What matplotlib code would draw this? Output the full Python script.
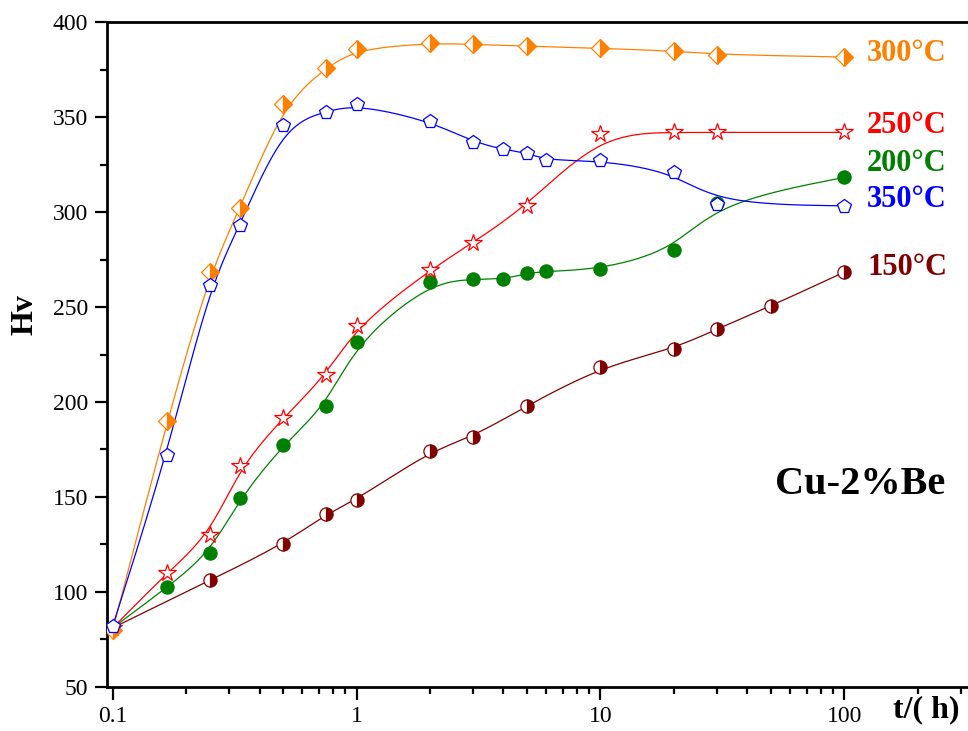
import numpy as np
import matplotlib
matplotlib.use("Agg")
import matplotlib.pyplot as plt
from matplotlib.ticker import MultipleLocator, LogLocator, FixedLocator, FixedFormatter

plt.rcParams['font.family'] = ['Liberation Serif', 'DejaVu Serif']
plt.rcParams['mathtext.fontset'] = 'stix'

# ---- data (hardness Hv vs ageing time t, hours) ----
t_150 = [0.1, 0.25, 0.5, 0.75, 1, 2, 3, 5, 10, 20, 30, 50, 100]
hv_150 = [81, 106, 125, 141, 148.4, 174.2, 181.6, 198, 218.4, 228, 238.4, 250.5, 268.4]

t_200 = [0.1, 0.167, 0.25, 0.333, 0.5, 0.75, 1, 2, 3, 4, 5, 6, 10, 20, 30, 100]
hv_200 = [81, 102.3, 120.4, 149.5, 177.4, 198, 231.6, 263, 264.6, 264.7, 267.7, 268.9, 269.8, 280, 305, 318.3]

t_250 = [0.1, 0.167, 0.25, 0.333, 0.5, 0.75, 1, 2, 3, 5, 10, 20, 30, 100]
hv_250 = [81, 110, 130, 166, 191.6, 214, 240, 269.5, 284, 303.2, 341.2, 342, 342, 342]

t_300 = [0.1, 0.167, 0.25, 0.333, 0.5, 0.75, 1, 2, 3, 5, 10, 20, 30, 100]
hv_300 = [80, 190, 268.4, 302, 357, 376, 386, 389, 388.4, 387.4, 386.3, 384.9, 383, 381.7]

t_350 = [0.1, 0.167, 0.25, 0.333, 0.5, 0.75, 1, 2, 3, 4, 5, 6, 10, 20, 30, 100]
hv_350 = [82, 172, 261.6, 293, 345.8, 353, 356.8, 348, 337, 333, 331.2, 327.2, 327.2, 321.2, 304.4, 303.3]

labels = ["150°C", "200°C", "250°C", "300°C", "350°C"]
label_y = [270.7, 325.5, 345.5, 383.8, 306.5]
colors = ["#800000", "#008000", "#FF0000", "#FF8000", "#0000FF"]

xticks = [0.1, 1, 10, 100]
xticklabels = ["0.1", "1", "10", "100"]
yticks = [50, 100, 150, 200, 250, 300, 350, 400]


def bspline(x, y, n=40):
    """Clamped uniform cubic B-spline (Origin-style) in log10(x)-y space."""
    lx = np.log10(np.asarray(x, float))
    yy = np.asarray(y, float)
    P = np.column_stack([lx, yy])
    P = np.vstack([P[:1], P[:1], P, P[-1:], P[-1:]])
    out = []
    u = np.linspace(0, 1, n)
    b0 = (1 - u) ** 3 / 6
    b1 = (3 * u ** 3 - 6 * u ** 2 + 4) / 6
    b2 = (-3 * u ** 3 + 3 * u ** 2 + 3 * u + 1) / 6
    b3 = u ** 3 / 6
    for i in range(len(P) - 3):
        seg = (np.outer(b0, P[i]) + np.outer(b1, P[i + 1]) +
               np.outer(b2, P[i + 2]) + np.outer(b3, P[i + 3]))
        out.append(seg)
    S = np.vstack(out)
    return 10 ** S[:, 0], S[:, 1]


fig = plt.figure(figsize=(9.68, 7.31), dpi=100)
ax = fig.add_axes([107.3 / 968, 44.3 / 731, 1 - 107.3 / 968, (686.7 - 22.3) / 731])
ax.set_xscale('log')
ax.set_xlim(0.0950, 321.6)
ax.set_ylim(50, 400)

series = [
    (t_150, hv_150, dict(marker='o', fillstyle='right', markersize=9.5,
                         markerfacecoloralt='white')),
    (t_200, hv_200, dict(marker='o', fillstyle='full', markersize=9.5)),
    (t_250, hv_250, dict(marker='*', fillstyle='full', markersize=13,
                         markerfacecolor='white')),
    (t_300, hv_300, dict(marker='D', fillstyle='right', markersize=9,
                         markerfacecoloralt='white')),
    (t_350, hv_350, dict(marker='p', fillstyle='full', markersize=10.5,
                         markerfacecolor='white')),
]

for (tx, hv, mk), c in zip(series, colors):
    sx, sy = bspline(tx, hv)
    ax.plot(sx, sy, color=c, lw=0.9, zorder=2)
    kw = dict(mk)
    kw.setdefault('markerfacecolor', c)
    ax.plot(tx, hv, linestyle='none', markeredgecolor=c, markeredgewidth=0.9,
            zorder=3, **kw)

for lab, ly, c in zip(labels, label_y, colors):
    ax.text(124, ly, lab, color=c, fontsize=22, fontweight='bold',
            ha='left', va='center')

ax.text(52, 156.5, "Cu-2%Be", color='black', fontsize=29, fontweight='bold',
        ha='left', va='center')

# axes styling
for s in ['left', 'bottom', 'top']:
    ax.spines[s].set_linewidth(2.0)
ax.spines['right'].set_visible(False)

ax.xaxis.set_major_locator(FixedLocator(xticks))
ax.xaxis.set_major_formatter(FixedFormatter(xticklabels))
ax.xaxis.set_minor_locator(LogLocator(base=10, subs=np.arange(2, 10)))
ax.xaxis.set_minor_formatter(plt.NullFormatter())
ax.yaxis.set_major_locator(FixedLocator(yticks))
ax.yaxis.set_minor_locator(MultipleLocator(25))

ax.tick_params(axis='both', which='major', direction='out', length=9,
               width=1.6, labelsize=17, pad=5)
ax.tick_params(axis='both', which='minor', direction='out', length=5,
               width=1.6)
ax.tick_params(axis='x', which='both', top=False)
ax.tick_params(axis='y', which='both', right=False)

fig.text(25 / 968, 1 - 315 / 731, "Hv", rotation=90, fontsize=23,
         fontweight='bold', ha='center', va='center')
fig.text(893 / 968, 1 - 710 / 731, "t/( h)", fontsize=23,
         fontweight='bold', ha='left', va='center')

fig.savefig("out.png", dpi=100)
